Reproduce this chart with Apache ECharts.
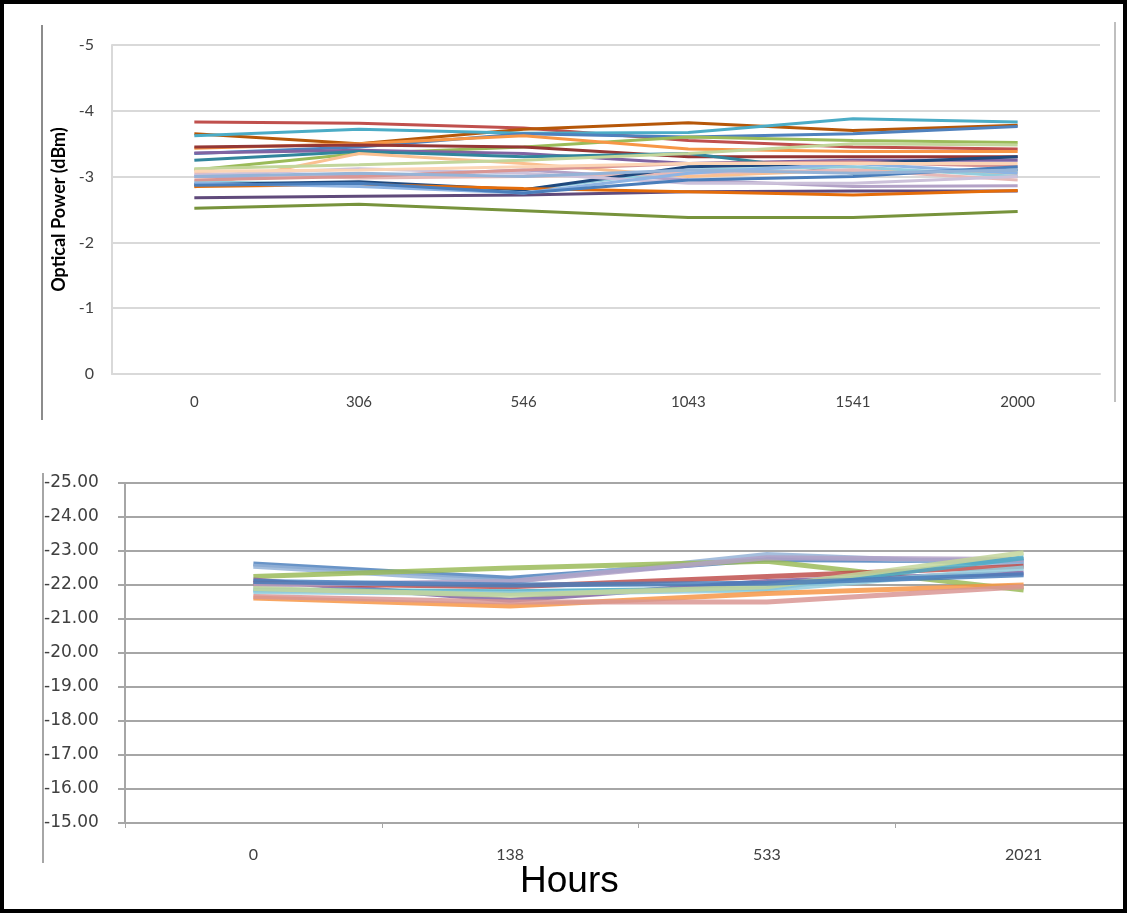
<!DOCTYPE html>
<html>
<head>
<meta charset="utf-8">
<script src="https://cdn.jsdelivr.net/npm/echarts@6/dist/echarts.min.js"></script>
<style>
  html, body { margin: 0; padding: 0; background: #fff; overflow: hidden; }
  #main { width: 1160px; height: 913px; }
  #frame { position: absolute; left: 0; top: 0; width: 1127px; height: 913px;
    box-sizing: border-box; border: 4px solid #000; pointer-events: none; }
</style>
</head>
<body>
<div id="main"></div>
<div id="frame"></div>
<script>
// top panel: hours on x, optical power (dBm) per channel
const topHours = ['0', '306', '546', '1043', '1541', '2000'];
const topTicks = [-5, -4, -3, -2, -1, 0];
const topLines = [
  [-3.83, -3.81, -3.74, -3.55, -3.45, -3.42],
  [-3.65, -3.50, -3.72, -3.82, -3.70, -3.78],
  [-3.62, -3.72, -3.66, -3.67, -3.88, -3.83],
  [-3.35, -3.45, -3.65, -3.60, -3.65, -3.76],
  [-3.10, -3.35, -3.45, -3.60, -3.55, -3.52],
  [-3.43, -3.50, -3.62, -3.42, -3.38, -3.38],
  [-3.45, -3.48, -3.45, -3.30, -3.30, -3.30],
  [-3.36, -3.40, -3.35, -3.20, -3.25, -3.25],
  [-3.25, -3.38, -3.30, -3.35, -3.05, -3.10],
  [-2.84, -3.35, -3.20, -3.00, -3.10, -3.05],
  [-3.00, -3.00, -3.10, -2.95, -2.85, -2.86],
  [-2.92, -2.88, -2.80, -3.10, -3.15, -3.00],
  [-3.05, -2.98, -3.00, -3.05, -3.10, -2.95],
  [-2.88, -2.92, -2.80, -3.15, -3.20, -3.30],
  [-3.02, -3.12, -3.05, -2.90, -2.90, -3.00],
  [-2.68, -2.70, -2.72, -2.77, -2.78, -2.78],
  [-2.52, -2.58, -2.48, -2.38, -2.38, -2.47],
  [-2.85, -2.88, -2.82, -2.77, -2.72, -2.79],
  [-3.12, -3.18, -3.25, -3.35, -3.50, -3.48],
  [-2.95, -3.00, -3.10, -3.20, -3.22, -3.15],
  [-2.90, -2.85, -2.75, -3.05, -3.20, -3.05],
  [-2.87, -2.90, -2.75, -2.95, -3.00, -3.15],
  [-3.00, -3.05, -3.00, -3.10, -3.05, -3.10],
  [-3.08, -3.10, -3.15, -3.20, -3.20, -3.20]
];

// bottom panel
const bottomHours = ['0', '138', '533', '2021'];
const bottomTicks = [-25, -24, -23, -22, -21, -20, -19, -18, -17, -16, -15];
const bottomLines = [
  [-22.62, -22.20, -22.75, -22.70],
  [-22.55, -22.10, -22.90, -22.60],
  [-22.25, -22.50, -22.70, -21.85],
  [-22.15, -21.55, -22.10, -22.35],
  [-22.05, -21.95, -22.25, -22.55],
  [-22.00, -22.10, -22.80, -22.75],
  [-21.85, -21.80, -21.90, -22.80],
  [-21.80, -21.75, -21.85, -22.50],
  [-21.62, -21.38, -21.75, -22.00],
  [-21.66, -21.50, -21.50, -21.95],
  [-21.90, -21.70, -21.95, -22.95],
  [-22.10, -22.00, -22.05, -22.30]
];

const topColors = ['#c0504d', '#b65708', '#4bacc6', '#4f81bd', '#9bbb59', '#f79646',
  '#953735', '#8064a2', '#31859c', '#fac090', '#b3a2c7', '#93cddd', '#e6b9b8',
  '#1f497d', '#ccc1da', '#604a7b', '#77933c', '#e46c0a', '#c3d69b', '#d99694',
  '#8eb4e3', '#4a7ebb', '#95b3d7', '#fcd5b5'];
const bottomColors = ['#4f81bd', '#95b3d7', '#9bbb59', '#8064a2', '#c0504d', '#b3a2c7',
  '#4bacc6', '#93cddd', '#f79646', '#d99694', '#c3d69b', '#4a7ebb'];

let chart = echarts.init(document.getElementById('main'));

let series = [];
topLines.forEach(function (d, i) {
  series.push({
    type: 'line', xAxisIndex: 0, yAxisIndex: 0, data: d,
    symbol: 'none', lineStyle: { width: 3, color: topColors[i % topColors.length] }
  });
});
bottomLines.forEach(function (d, i) {
  series.push({
    type: 'line', xAxisIndex: 1, yAxisIndex: 1, data: d,
    symbol: 'none', lineStyle: { width: 5, color: bottomColors[i % bottomColors.length], opacity: 0.85 }
  });
});

chart.setOption({
  animation: false,
  textStyle: { fontFamily: 'Lato' },
  // chart div is wider than the page so the lower plot runs off the right edge
  grid: [
    { left: 112, right: 60, top: 45, bottom: 539 },
    { left: 125, right: 8, top: 483, bottom: 90 }
  ],
  xAxis: [{
    gridIndex: 0,
    type: 'category',
    data: topHours,
    axisLine: { lineStyle: { color: '#d9d9d9', width: 2 } },
    axisTick: { show: false },
    axisLabel: { color: '#404040', fontSize: 15, margin: 21 }
  }, {
    gridIndex: 1,
    type: 'category',
    data: bottomHours,
    axisLine: { lineStyle: { color: '#a6a6a6', width: 2 } },
    axisTick: { show: true, length: 5, lineStyle: { color: '#a6a6a6' } },
    axisLabel: { color: '#404040', fontSize: 16, margin: 24 }
  }],
  yAxis: [{
    gridIndex: 0,
    type: 'value',
    inverse: true,
    min: topTicks[0],
    max: topTicks[topTicks.length - 1],
    interval: 1,
    name: 'Optical Power (dBm)',
    nameLocation: 'middle',
    nameGap: 42,
    nameTextStyle: { color: '#000', fontWeight: 'bold', fontSize: 18 },
    axisLine: { show: true, lineStyle: { color: '#d9d9d9', width: 2 } },
    axisTick: { show: false },
    splitLine: { lineStyle: { color: '#d9d9d9', width: 2 } },
    axisLabel: { color: '#404040', fontSize: 16, margin: 18 }
  }, {
    gridIndex: 1,
    type: 'value',
    inverse: true,
    min: bottomTicks[0],
    max: bottomTicks[bottomTicks.length - 1],
    interval: 1,
    axisLine: { show: true, lineStyle: { color: '#a6a6a6', width: 2 } },
    axisTick: { show: true, length: 7, lineStyle: { color: '#a6a6a6', width: 2 } },
    splitLine: { lineStyle: { color: '#a6a6a6', width: 2 } },
    axisLabel: {
      color: '#404040', fontSize: 17, fontFamily: 'DejaVu Sans', align: 'left', margin: 81,
      formatter: function (v) { return v.toFixed(2); }
    }
  }],
  graphic: [
    { type: 'line', shape: { x1: 42, y1: 25, x2: 42, y2: 420 }, style: { stroke: '#8c8c8c', lineWidth: 2 } },
    { type: 'line', shape: { x1: 1115, y1: 22, x2: 1115, y2: 402 }, style: { stroke: '#bfbfbf', lineWidth: 2 } },
    { type: 'line', shape: { x1: 43, y1: 473, x2: 43, y2: 863 }, style: { stroke: '#a6a6a6', lineWidth: 2 } },
    {
      type: 'text', left: 520, top: 863,
      style: { text: 'Hours', fontSize: 37, fontFamily: 'Liberation Sans', fill: '#000' }
    }
  ],
  series: series
});
</script>
</body>
</html>
